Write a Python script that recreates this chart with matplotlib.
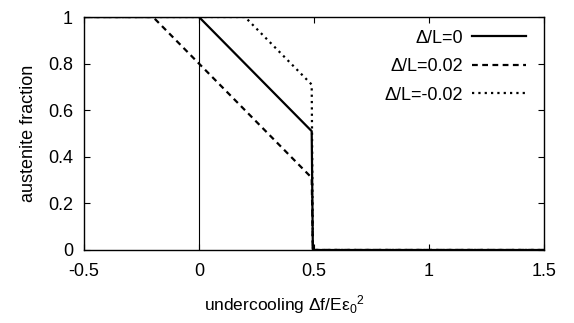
import matplotlib
matplotlib.use("Agg")
import matplotlib.pyplot as plt

plt.rcParams['font.family'] = ['Liberation Sans', 'DejaVu Sans']
plt.rcParams['mathtext.fontset'] = 'custom'
plt.rcParams['mathtext.rm'] = 'Liberation Sans'
plt.rcParams['mathtext.it'] = 'Liberation Sans'

# data
x_zero = [-0.5, 0.0, 0.49, 0.495, 1.5]
y_zero = [1.0, 1.0, 0.51, 0.0, 0.0]
x_pos = [-0.5, -0.2, 0.49, 0.495, 1.5]
y_pos = [1.0, 1.0, 0.31, 0.0, 0.0]
x_neg = [-0.5, 0.2, 0.49, 0.495, 1.5]
y_neg = [1.0, 1.0, 0.71, 0.0, 0.0]
labels = ['Δ/L=0', 'Δ/L=0.02', 'Δ/L=-0.02']
xticks = [-0.5, 0, 0.5, 1, 1.5]
xticklabels = ['-0.5', '0', '0.5', '1', '1.5']
yticks = [0, 0.2, 0.4, 0.6, 0.8, 1]
yticklabels = ['0', '0.2', '0.4', '0.6', '0.8', '1']

fig = plt.figure(figsize=(5.74, 3.23), dpi=100)
ax = fig.add_axes([84/574, 1 - 250/323, (544-84)/574, (250-17)/323])

ax.axvline(0, color='black', lw=0.8)
ax.plot(x_zero, y_zero, color='black', lw=1.6, ls='-', label=labels[0])
ax.plot(x_pos, y_pos, color='black', lw=1.6, ls=(0, (2.6, 2.0)), label=labels[1])
ax.plot(x_neg, y_neg, color='black', lw=1.6, ls=(0, (1, 1.85)), label=labels[2])

ax.set_xlim(-0.5, 1.5)
ax.set_ylim(0, 1)
ax.set_xticks(xticks)
ax.set_xticklabels(xticklabels)
ax.set_yticks(yticks)
ax.set_yticklabels(yticklabels)
ax.tick_params(direction='in', length=4, width=0.8, top=True, right=True,
               labelsize=13, colors='black')
ax.tick_params(axis='x', pad=9)
ax.tick_params(axis='y', pad=8)
for s in ax.spines.values():
    s.set_linewidth(1.0)

ax.set_xlabel('undercooling Δf/Eε$_0$$^2$', fontsize=12.5)
ax.xaxis.set_label_coords((284 - 84) / 460, -(305 - 250) / 233)
ax.xaxis.label.set_va('center')
ax.set_ylabel('austenite fraction', fontsize=13, labelpad=8)

ax.legend(loc='upper right', frameon=False, markerfirst=False, fontsize=13,
          handlelength=3.0, labelspacing=0.64, borderaxespad=0.3,
          handletextpad=0.52, bbox_to_anchor=(1 - 5/460, 1))

fig.savefig('out.png', dpi=100)
